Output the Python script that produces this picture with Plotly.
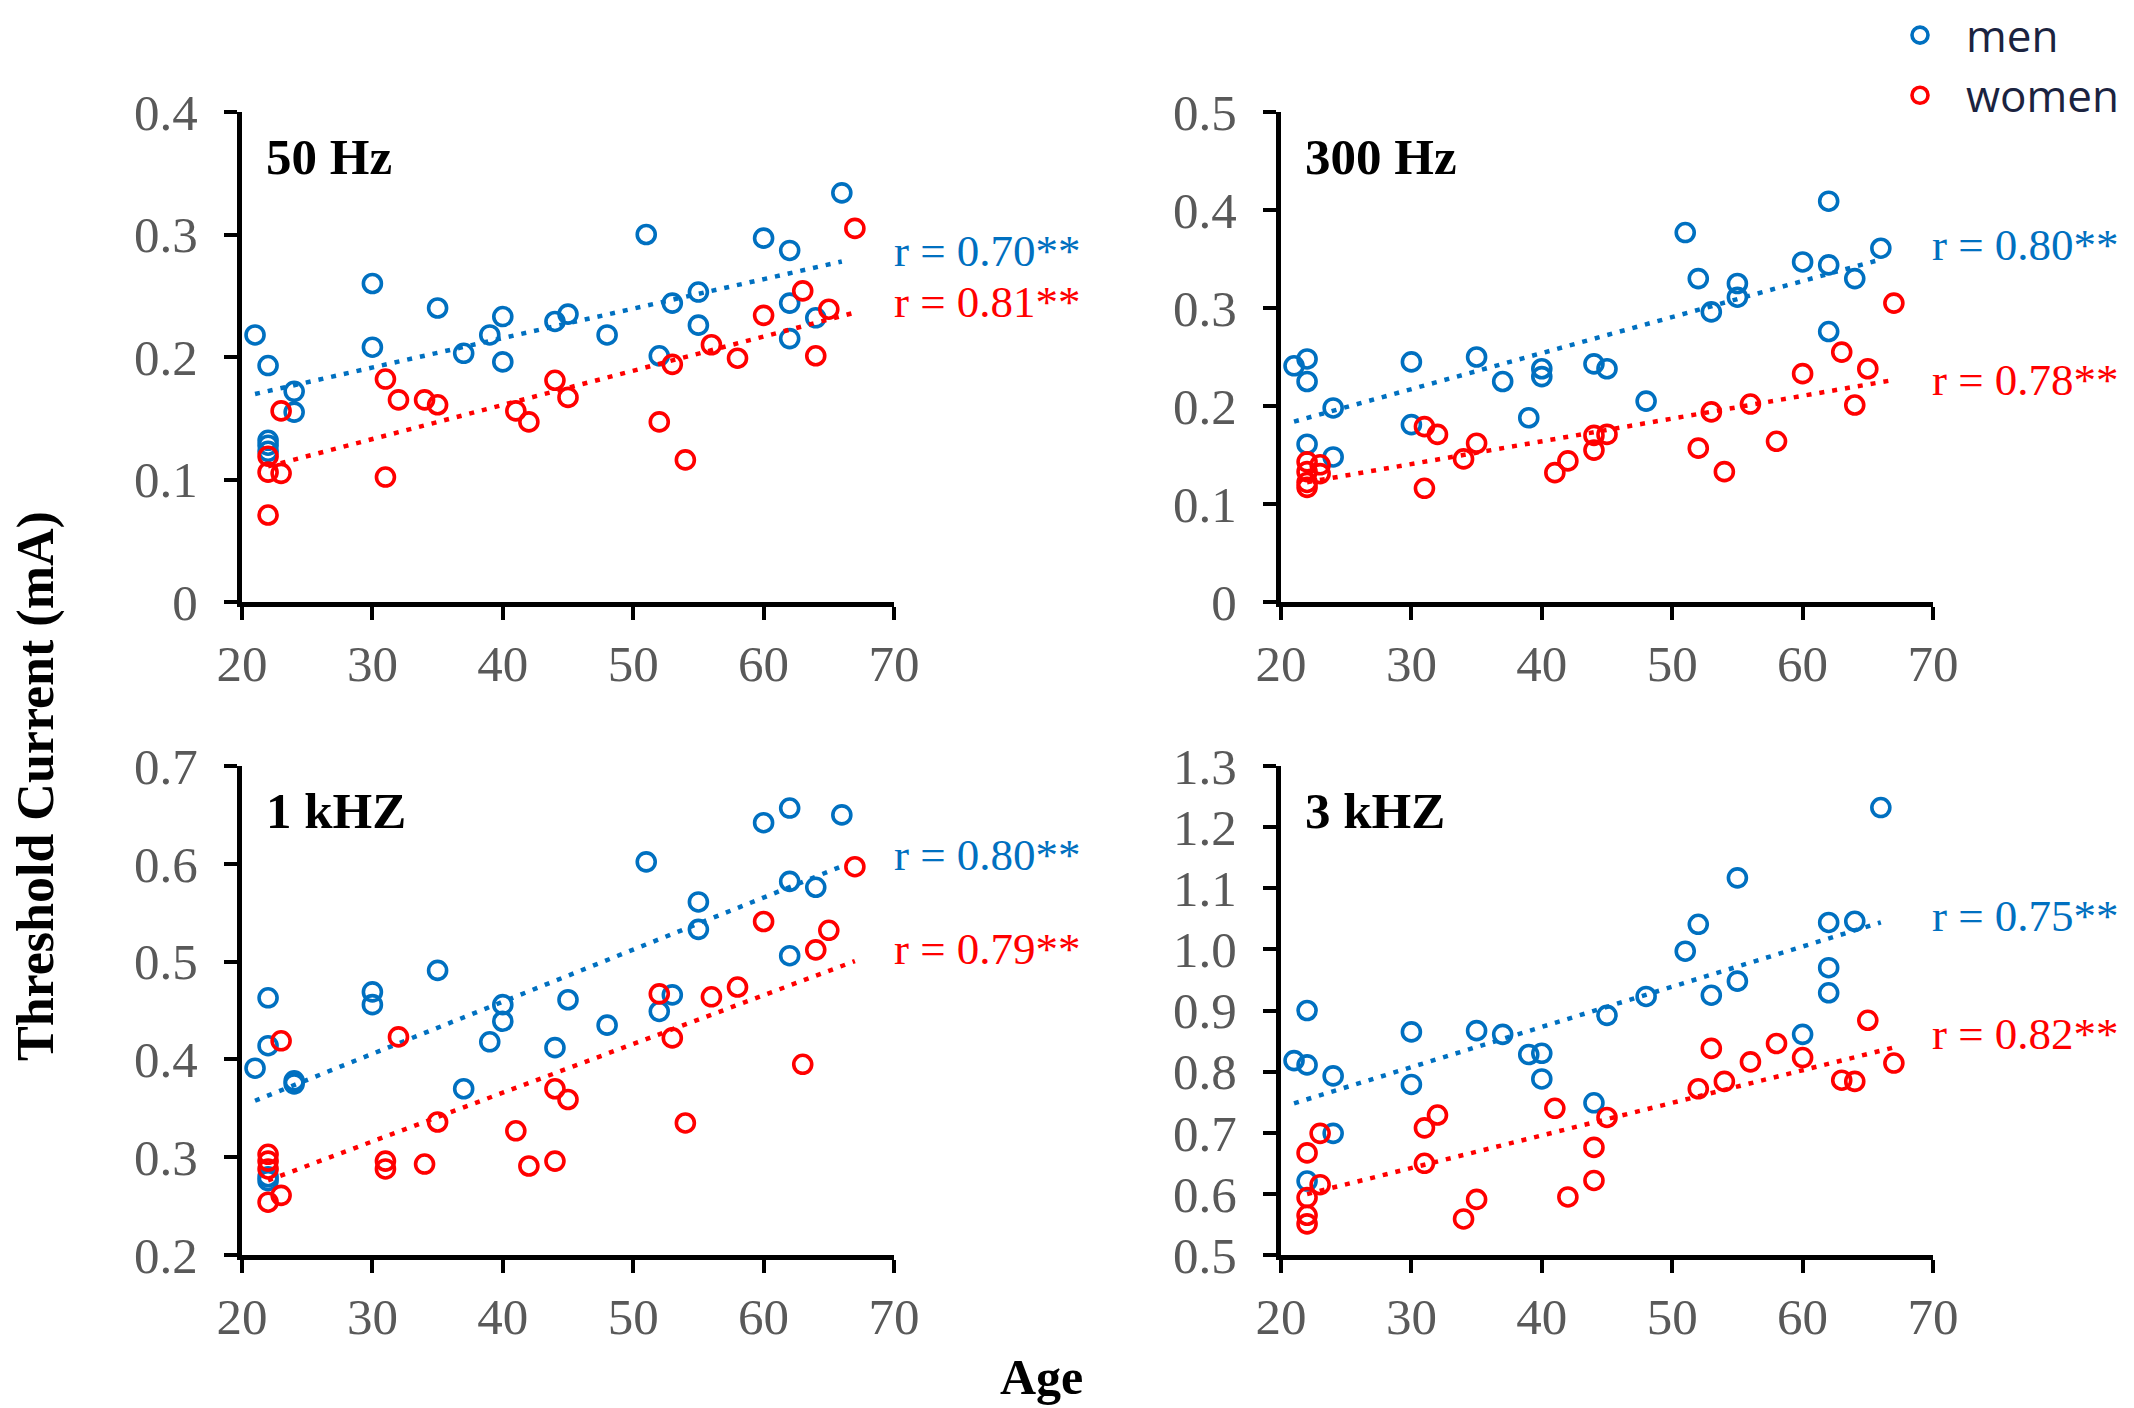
import numpy as np
import plotly.graph_objects as go

# ---- data: threshold current (mA) vs age, per stimulus frequency ----
panel_titles = ["50 Hz", "300 Hz", "1 kHZ", "3 kHZ"]

men_age_50 = [21, 22, 22, 22, 22, 24, 24, 30, 30, 35, 37, 39, 40, 40, 44, 45, 48, 51, 52, 53, 55, 55, 60, 62, 62, 62, 64, 66]
men_50 = [0.218, 0.193, 0.132, 0.128, 0.123, 0.172, 0.155, 0.260, 0.208, 0.240, 0.203, 0.218, 0.233, 0.196,
          0.229, 0.235, 0.218, 0.300, 0.201, 0.244, 0.253, 0.226, 0.297, 0.287, 0.244, 0.215, 0.232, 0.334]
women_age_50 = [22, 22, 22, 23, 23, 31, 31, 32, 34, 35, 41, 42, 44, 45, 52, 53, 54, 56, 58, 60, 63, 64, 65, 67]
women_50 = [0.119, 0.106, 0.071, 0.156, 0.105, 0.182, 0.102, 0.165, 0.165, 0.161, 0.156, 0.147, 0.181, 0.167,
            0.147, 0.194, 0.116, 0.210, 0.199, 0.234, 0.254, 0.201, 0.239, 0.305]

men_age_300 = [21, 22, 22, 22, 24, 24, 30, 30, 35, 37, 39, 40, 40, 44, 45, 48, 51, 52, 53, 55, 55, 60, 62, 62, 62, 64, 66]
men_300 = [0.241, 0.248, 0.225, 0.161, 0.198, 0.148, 0.245, 0.181, 0.250, 0.225, 0.188, 0.238, 0.230, 0.243,
           0.238, 0.205, 0.377, 0.330, 0.296, 0.325, 0.311, 0.347, 0.409, 0.344, 0.276, 0.330, 0.361]
women_age_300 = [22, 22, 22, 22, 23, 23, 31, 31, 32, 34, 35, 41, 42, 44, 44, 45, 52, 53, 54, 56, 58, 60, 63, 64, 65, 67]
women_300 = [0.143, 0.133, 0.122, 0.117, 0.140, 0.131, 0.179, 0.116, 0.171, 0.146, 0.162, 0.132, 0.144, 0.170,
             0.155, 0.171, 0.157, 0.194, 0.133, 0.202, 0.164, 0.233, 0.255, 0.201, 0.238, 0.305]

men_age_1k = [21, 22, 22, 22, 22, 24, 24, 30, 30, 35, 37, 39, 40, 40, 44, 45, 48, 51, 52, 53, 55, 55, 60, 62, 62, 62, 64, 66]
men_1k = [0.391, 0.463, 0.414, 0.280, 0.276, 0.378, 0.375, 0.469, 0.456, 0.491, 0.370, 0.418, 0.456, 0.439,
          0.412, 0.461, 0.435, 0.602, 0.449, 0.466, 0.561, 0.533, 0.642, 0.657, 0.582, 0.506, 0.576, 0.650]
women_age_1k = [22, 22, 22, 22, 23, 23, 31, 31, 32, 34, 35, 41, 42, 44, 44, 45, 52, 53, 54, 56, 58, 60, 63, 64, 65, 67]
women_1k = [0.303, 0.296, 0.288, 0.254, 0.261, 0.419, 0.296, 0.288, 0.423, 0.293, 0.336, 0.327, 0.291, 0.370,
            0.296, 0.359, 0.467, 0.422, 0.335, 0.464, 0.474, 0.541, 0.395, 0.512, 0.532, 0.597]

men_age_3k = [21, 22, 22, 22, 24, 24, 30, 30, 35, 37, 39, 40, 40, 44, 45, 48, 51, 52, 53, 55, 55, 60, 62, 62, 62, 64, 66]
men_3k = [0.818, 0.900, 0.811, 0.621, 0.793, 0.699, 0.865, 0.779, 0.867, 0.861, 0.828, 0.830, 0.788, 0.749,
          0.892, 0.923, 0.997, 1.041, 0.925, 0.948, 1.117, 0.861, 1.044, 0.970, 0.929, 1.046, 1.232]
women_age_3k = [22, 22, 22, 22, 23, 23, 31, 31, 32, 34, 35, 41, 42, 44, 44, 45, 52, 53, 54, 56, 58, 60, 63, 64, 65, 67]
women_3k = [0.667, 0.594, 0.565, 0.551, 0.699, 0.615, 0.708, 0.650, 0.729, 0.559, 0.591, 0.740, 0.595, 0.676,
            0.622, 0.725, 0.772, 0.838, 0.784, 0.816, 0.846, 0.823, 0.786, 0.784, 0.884, 0.814]

r_men = ["r = 0.70**", "r = 0.80**", "r = 0.80**", "r = 0.75**"]
r_women = ["r = 0.81**", "r = 0.78**", "r = 0.79**", "r = 0.82**"]

y_ranges = [[0, 0.4], [0, 0.5], [0.2, 0.7], [0.5, 1.3]]
x_ticks = [20, 30, 40, 50, 60, 70]

# ---- styling ----
W, H = 2134, 1408
BLUE = "#0070C0"
RED = "#FF0000"
SERIF = "Liberation Serif, Times New Roman, serif"
TICK_GREY = "#595959"

# plot-area boxes in pixels: (left, right, top, bottom)
boxes = [(242, 894, 112, 602), (1281, 1933, 112, 602),
         (242, 894, 766, 1255), (1281, 1933, 766, 1255)]

groups = [
    (men_age_50, men_50, women_age_50, women_50),
    (men_age_300, men_300, women_age_300, women_300),
    (men_age_1k, men_1k, women_age_1k, women_1k),
    (men_age_3k, men_3k, women_age_3k, women_3k),
]

fig = go.Figure()


def trend(xs, ys):
    """Least-squares linear trend over the observed age span."""
    xs = np.asarray(xs, float)
    ys = np.asarray(ys, float)
    slope, icpt = np.polyfit(xs, ys, 1)
    xl = np.array([xs.min(), xs.max()])
    return xl, slope * xl + icpt


for i, (ma, mv, wa, wv) in enumerate(groups):
    ax = "" if i == 0 else str(i + 1)
    xref, yref = "x" + ax, "y" + ax
    for ages, vals, col, name in [(ma, mv, BLUE, "men"), (wa, wv, RED, "women")]:
        fig.add_trace(go.Scatter(
            x=ages, y=vals, mode="markers", name=name,
            marker=dict(symbol="circle-open", size=18, color=col, line=dict(width=3.6, color=col)),
            showlegend=(i == 0), xaxis=xref, yaxis=yref, cliponaxis=False))
        tx, ty = trend(ages, vals)
        fig.add_trace(go.Scatter(
            x=tx, y=ty, mode="lines", line=dict(color=col, width=4.5, dash="5px,8px"),
            showlegend=False, hoverinfo="skip", xaxis=xref, yaxis=yref))

    l, r, t, b = boxes[i]
    xdom = [l / W, r / W]
    ydom = [1 - b / H, 1 - t / H]
    common = dict(showline=True, linecolor="black", linewidth=5, ticks="outside",
                  ticklen=13, tickwidth=4, tickcolor="black", showgrid=False, zeroline=False,
                  automargin=False, tickfont=dict(family=SERIF, size=51, color=TICK_GREY))
    fig.layout["xaxis" + ax] = dict(domain=xdom, range=[20, 70], tickvals=x_ticks,
                                    anchor=yref, ticklabelstandoff=0, **common)
    yfmt = ".1f" if i == 3 else ""
    fig.layout["yaxis" + ax] = dict(domain=ydom, range=y_ranges[i], dtick=0.1,
                                    tickformat=yfmt, anchor=xref, ticklabelstandoff=16, **common)

    # panel title
    fig.add_annotation(text="<b>%s</b>" % panel_titles[i], xref="paper", yref="paper",
                       x=(l + 22) / W, y=1 - (t + 45) / H, xanchor="left", yanchor="middle",
                       showarrow=False, font=dict(family=SERIF, size=51, color="black"))

# correlation labels (left x, centre y in pixels)
r_pos = [((892, 251), (892, 302)), ((1930, 245), (1930, 380)),
         ((892, 855), (892, 949)), ((1930, 916), (1930, 1034))]
for i in range(4):
    (bx, by), (rx, ry) = r_pos[i]
    fig.add_annotation(text=r_men[i], xref="paper", yref="paper", x=bx / W, y=1 - by / H,
                       xanchor="left", yanchor="middle", showarrow=False,
                       font=dict(family=SERIF, size=45, color=BLUE))
    fig.add_annotation(text=r_women[i], xref="paper", yref="paper", x=rx / W, y=1 - ry / H,
                       xanchor="left", yanchor="middle", showarrow=False,
                       font=dict(family=SERIF, size=45, color=RED))

# shared axis titles
fig.add_annotation(text="<b>Threshold Current (mA)</b>", xref="paper", yref="paper",
                   x=36 / W, y=1 - 786 / H, textangle=-90, xanchor="center", yanchor="middle",
                   showarrow=False, font=dict(family=SERIF, size=52, color="black"))
fig.add_annotation(text="<b>Age</b>", xref="paper", yref="paper",
                   x=1041 / W, y=1 - 1377 / H, xanchor="center", yanchor="middle",
                   showarrow=False, font=dict(family=SERIF, size=50, color="black"))

fig.update_layout(
    width=W, height=H, margin=dict(l=0, r=0, t=0, b=0),
    paper_bgcolor="white", plot_bgcolor="white",
    legend=dict(x=1874 / W, y=1.0, xanchor="left", yanchor="top", itemwidth=82,
                font=dict(family="Open Sans, sans-serif", size=44, color="#1B2340"),
                bgcolor="rgba(0,0,0,0)", tracegroupgap=0, itemsizing="trace"),
)

fig.write_html("out.html")
